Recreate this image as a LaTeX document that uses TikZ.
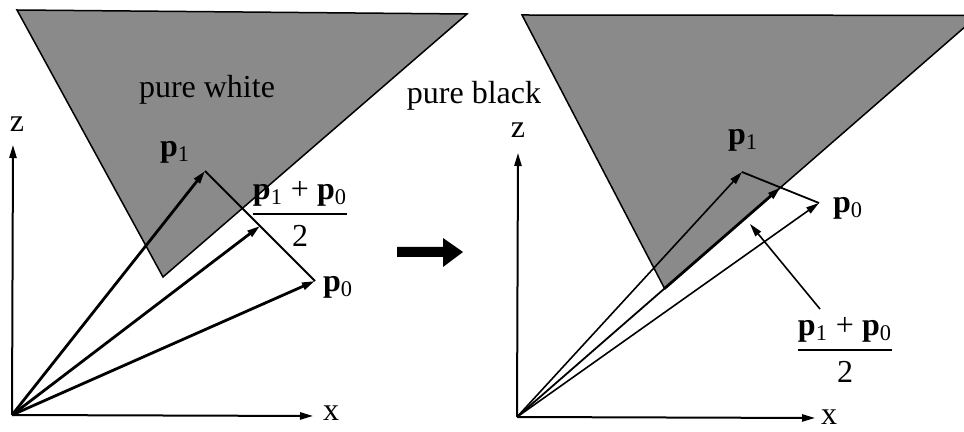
\documentclass[tikz,border=0pt]{standalone}
\usepackage{amsmath}
\usepackage{fontspec}
\setmainfont{Liberation Serif}
\usetikzlibrary{arrows.meta,calc}
\newcommand{\pv}[1]{\textbf{p}\textsubscript{#1}}

\begin{document}
\begin{tikzpicture}[
    x=0.5pt, y=-0.5pt,
    >={Triangle[length=6.5pt,width=3.6pt]},
    font=\fontsize{16}{19}\selectfont,
    halftone/.style={draw=black, line width=0.75pt, fill=black!46},
    axis/.style={->, line width=1pt},
    vecthick/.style={->, line width=1.4pt},
    vecthin/.style={->, line width=0.8pt},
    edgeline/.style={line width=0.9pt},
    lbl/.style={inner sep=1pt},
    fraclbl/.style={inner sep=1pt}
]
\fill[white] (0,0) rectangle (964,432);
\clip (0,0) rectangle (964,432);

% Left panel: shaded region
\draw[halftone] (17,10) -- (467,14) -- (163,277) -- cycle;
\node[lbl] (white) at (207,90) {pure white};
\node[lbl] (black) at (474,96) {pure black};

% Left panel: axes
\coordinate (O1) at (12,415);
\coordinate (z1) at (13,145);
\coordinate (x1) at (313,416);
\draw[axis] (O1) -- (z1);
\draw[axis] (O1) -- (x1);
\node[lbl] (zlab1) at (17,124) {z};
\node[lbl] (xlab1) at (331,413) {x};

% Left panel: vectors
\coordinate (P1a) at (205,171);
\coordinate (P0a) at (315,281);
\coordinate (M1) at ($(P1a)!0.5!(P0a)$);
\draw[edgeline] (P1a) -- (P0a);
\draw[vecthick] (O1) -- (P1a);
\draw[vecthick] (O1) -- (M1);
\draw[vecthick] (O1) -- (P0a);
\node[lbl] (p1a) at (175,152) {\pv{1}};
\node[lbl] (p0a) at (338,287) {\pv{0}};
\node[fraclbl] (fracL) at (300,214) {$\genfrac{}{}{0.9pt}{0}{\text{\pv{1} + \pv{0}}}{\text{2}}$};

% Step arrow
\fill (397,247) -- (443,247) -- (443,238) -- (463,252) -- (443,267) -- (443,257) -- (397,257) -- cycle;

% Right panel: axes
\coordinate (O2) at (517,417);
\coordinate (z2) at (518,153);
\coordinate (x2) at (815,418);
\coordinate (P1b) at (742,172);
\coordinate (P0b) at (819,203);
\coordinate (M2) at ($(P1b)!0.5!(P0b)$);
\coordinate (B2) at ($(O2)!0.56!(M2)$);

% Right panel: shaded region
\draw[halftone] (522,15) -- ($(O2)!1.75!(M2)$) -- (B2) -- cycle;
\draw[axis] (O2) -- (z2);
\draw[axis] (O2) -- (x2);
\node[lbl] (zlab2) at (518,130) {z};
\node[lbl] (xlab2) at (829,417) {x};

% Right panel: vectors
\draw[edgeline] (P1b) -- (P0b);
\draw[vecthin] (O2) -- (P1b);
\draw[vecthin] (O2) -- (P0b);
\draw[edgeline] (O2) -- (B2);
\draw[vecthick] (B2) -- (M2);
\node[lbl] (p1b) at (743,140) {\pv{1}};
\node[lbl] (p0b) at (848,208) {\pv{0}};
\node[fraclbl] (fracR) at (845,350) {$\genfrac{}{}{0.9pt}{0}{\text{\pv{1} + \pv{0}}}{\text{2}}$};
\coordinate (tipR) at (750,224);
\draw[vecthin] ($(fracR.north)+(-25,-6)$) -- (tipR);

\end{tikzpicture}
\end{document}
